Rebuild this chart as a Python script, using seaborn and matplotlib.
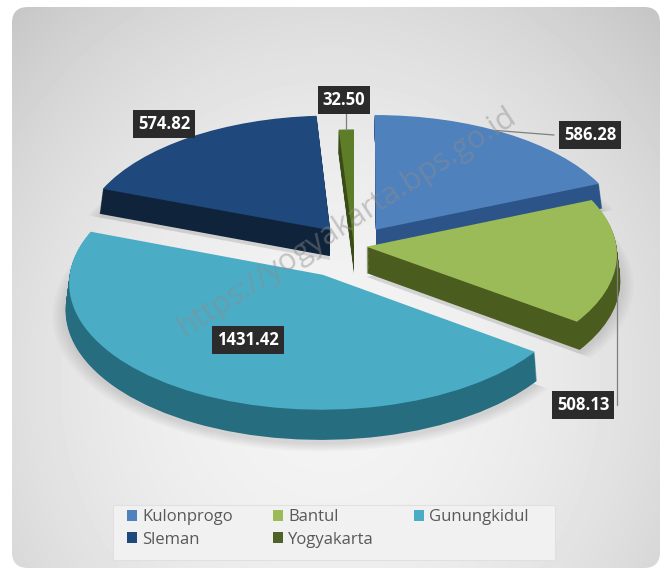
import numpy as np
import matplotlib
matplotlib.use("Agg")
import matplotlib.pyplot as plt
import seaborn as sns
from matplotlib.patches import FancyBboxPatch, Patch, Rectangle
from matplotlib.transforms import Transform

# data
regions = ["Kulonprogo", "Bantul", "Gunungkidul", "Sleman", "Yogyakarta"]
values = [586.28, 508.13, 1431.42, 574.82, 32.50]

# styles
top_colors = ["#4f81bd", "#9bbb59", "#4bacc6", "#1f497d", "#5e7d28"]
side_colors = ["#2c5488", "#4a5c1e", "#266d80", "#0f233b", "#3a4c16"]
legend_colors = ["#4f81bd", "#9bbb59", "#4bacc6", "#1f497d", "#4f6228"]
explode = [0.16, 0.05, 0.26, 0.16, 0.0]

# layout (pixels)
W, H = 665, 572
cx, cy = 354, 246      # pie centre
sx, sy = 250, 124      # ellipse radii
depth = 26             # thickness of the pie
tilt_k = 0.06          # fake perspective: near side a bit bigger
label_px = [(590, 135), (583, 405), (248, 340), (164, 124), (344, 100)]
leader_ang = [31, 84, None, -36, 358]
leader_low = [False, True, False, False, False]


class Tilt(Transform):
    """scale points outward the lower they sit, like a tilted disc"""
    input_dims = output_dims = 2

    def __init__(self, k):
        super().__init__()
        self.k = k

    def transform_non_affine(self, values):
        v = np.asarray(values, dtype=float)
        return v * (1 - self.k * v[:, 1:2])


sns.set_theme(style="white")
plt.rcParams["font.family"] = ["Open Sans", "DejaVu Sans"]

fig = plt.figure(figsize=(W / 100, H / 100), dpi=100)
fig.patch.set_facecolor("white")

# background panel with soft gradient
ax_bg = fig.add_axes([0, 0, 1, 1])
ax_bg.set_xlim(0, W)
ax_bg.set_ylim(H, 0)
ax_bg.axis("off")
yy, xx = np.mgrid[0:H, 0:W]
r2 = ((xx - 330) / 380.0) ** 2 + ((yy - 380) / 420.0) ** 2
grad = np.clip(0.955 - 0.12 * r2, 0.7, 0.97)
panel = FancyBboxPatch((12, 7), 648, 561, boxstyle="round,pad=0,rounding_size=16",
                       transform=ax_bg.transData, facecolor="none", edgecolor="none")
ax_bg.add_patch(panel)
im = ax_bg.imshow(grad, cmap="gray", vmin=0, vmax=1, extent=(0, W, H, 0), zorder=0)
im.set_clip_path(panel)

# pie
ax = fig.add_axes([0, 0, 1, 1])
tilt = Tilt(tilt_k)
d_unit = depth / sy
wedges_all = []
# soft shadow
for k in range(6):
    w, _ = ax.pie(values, colors=[(0, 0, 0, 0.02)] * 5, startangle=90, counterclock=False,
                  explode=explode, radius=1.0 + 0.01 * k, center=(0.0, -d_unit - 0.03),
                  wedgeprops=dict(linewidth=0))
    wedges_all += w
# sides
for d in np.linspace(d_unit, 0, 30, endpoint=False):
    w, _ = ax.pie(values, colors=side_colors, startangle=90, counterclock=False,
                  explode=explode, center=(0, -d), wedgeprops=dict(linewidth=0))
    wedges_all += w
# tops
w, _ = ax.pie(values, colors=top_colors, startangle=90, counterclock=False,
              explode=explode, center=(0, 0), wedgeprops=dict(linewidth=0))
wedges_all += w
for p in wedges_all:
    p.set_transform(tilt + ax.transData)
ax.set_aspect("auto")
ax.set_xlim(-cx / sx, (W - cx) / sx)
ax.set_ylim(-(H - cy) / sy, cy / sy)
ax.axis("off")

# overlay: watermark, labels, leaders, legend box
ov = fig.add_axes([0, 0, 1, 1])
ov.set_xlim(0, W)
ov.set_ylim(H, 0)
ov.axis("off")
ov.text(347, 222, "https://yogyakarta.bps.go.id", rotation=33, ha="center", va="center",
        fontsize=22, color="#8c8c8c", alpha=0.45)

total = sum(values)
start = 0.0
for i, v in enumerate(values):
    frac = v / total * 360.0
    mid = np.deg2rad(start + frac / 2)
    start += frac
    lx, ly = label_px[i]
    if leader_ang[i] is not None:
        th = np.deg2rad(leader_ang[i])
        ex = explode[i] * np.sin(mid) + np.sin(th)
        ey = explode[i] * np.cos(mid) + np.cos(th)
        if leader_low[i]:
            ey -= d_unit
        tx, ty = tilt.transform(np.array([[ex, ey]]))[0]
        px, py = cx + tx * sx, cy - ty * sy
        if leader_low[i] or leader_ang[i] > 300:
            ov.plot([px, px], [ly, py], color="#7f7f7f", lw=0.9, zorder=2)
        elif leader_ang[i] < 0:
            ov.plot([px, px], [ly + 10, py], color="#7f7f7f", lw=0.9, zorder=2)
        else:
            ov.plot([lx - 36, px], [ly, py], color="#7f7f7f", lw=0.9, zorder=2)
    ov.text(lx, ly, f"{v:.2f}", ha="center", va="center", fontsize=12, fontweight="bold",
            color="white", zorder=3,
            bbox=dict(boxstyle="square,pad=0.3", facecolor="#2b2b2b", edgecolor="none"))

ov.add_patch(Rectangle((113, 505), 442, 55, facecolor="#f1f1f1", edgecolor="#e0e0e0",
                       lw=0.8, zorder=1))

# legend (column-major fill -> reorder so rows read K B G / S Y)
order = [0, 3, 1, 4, 2]
handles = [Patch(facecolor=legend_colors[i], edgecolor="none") for i in order]
labels = [regions[i] for i in order]
leg = fig.legend(handles, labels, ncol=3, loc="upper left",
                 bbox_to_anchor=(127 / W, 1 - 509 / H),
                 frameon=False, fontsize=12, handlelength=0.62, handleheight=0.62,
                 handletextpad=0.3, columnspacing=2.4, labelspacing=0.4,
                 borderpad=0, borderaxespad=0, labelcolor="#595959")

fig.savefig("out.png", dpi=100, facecolor="white")
